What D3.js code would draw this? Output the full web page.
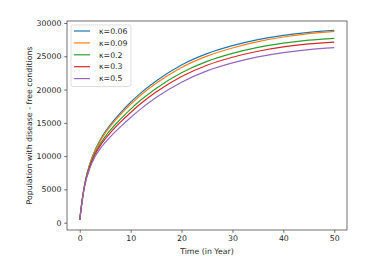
<!DOCTYPE html>
<html><head><meta charset="utf-8">
<script src="https://cdn.jsdelivr.net/npm/d3@7"></script>
<style>
body{margin:0;background:#fff}
svg{display:block}
text{font-family:"DejaVu Sans",sans-serif;fill:#262626}
</style>
</head><body>
<script>
// ---- data ----
const years = [0, 0.5, 1, 2, 3, 4, 5, 6, 8, 10, 12, 15, 20, 25, 30, 35, 40, 45, 50];
const seriesLabels = ["κ=0.06", "κ=0.09", "κ=0.2", "κ=0.3", "κ=0.5"];
const kappa006 = [400, 3500, 5900, 8900, 10900, 12400, 13650, 14700, 16500, 18100, 19500, 21300, 23700, 25400, 26600, 27500, 28150, 28600, 28900];
const kappa009 = [400, 3480, 5850, 8800, 10770, 12230, 13450, 14470, 16230, 17800, 19180, 20950, 23320, 25020, 26250, 27200, 27900, 28400, 28750];
const kappa02  = [400, 3455, 5765, 8585, 10450, 11815, 12930, 13890, 15555, 17065, 18420, 20175, 22530, 24230, 25430, 26330, 26980, 27430, 27700];
const kappa03  = [400, 3430, 5700, 8430, 10230, 11530, 12580, 13500, 15100, 16560, 17900, 19630, 21960, 23660, 24860, 25760, 26410, 26850, 27140];
const kappa05  = [400, 3400, 5600, 8200, 9900, 11100, 12050, 12900, 14400, 15800, 17100, 18800, 21100, 22800, 24000, 24900, 25550, 26000, 26300];
const xTicks = [0, 10, 20, 30, 40, 50];
const yTicks = [0, 5000, 10000, 15000, 20000, 25000, 30000];
const colors = ["#1f77b4", "#ff7f0e", "#2ca02c", "#d62728", "#9467bd"];
const xLabel = "Time (in Year)";
const yLabel = "Population with disease - free conditions";

const allSeries = [kappa006, kappa009, kappa02, kappa03, kappa05];

// ---- layout ----
const W = 374, H = 265;
const L = 67, R = 347, T = 21, B = 230;
const fs = 7.8;

const svg = d3.select("body").append("svg").attr("width", W).attr("height", H);

const x = d3.scaleLinear().domain([-2.5, 52.5]).range([L, R]);
const y = d3.scaleLinear().domain([-1100, 30300]).range([B, T]);

// lines
const line = d3.line().x((d, i) => x(years[i])).y(d => y(d)).curve(d3.curveMonotoneX);
const g = svg.append("g");
allSeries.forEach((s, i) => {
  g.append("path").datum(s).attr("d", line)
    .attr("fill", "none").attr("stroke", colors[i]).attr("stroke-width", 1.2);
});

// axes
const xAxis = d3.axisBottom(x).tickValues(xTicks).tickSize(2.8).tickPadding(2.8).tickFormat(d3.format("d"));
const yAxis = d3.axisLeft(y).tickValues(yTicks).tickSize(2.8).tickPadding(2.8).tickFormat(d3.format("d"));
const gx = svg.append("g").attr("transform", `translate(0,${B})`).call(xAxis);
const gy = svg.append("g").attr("transform", `translate(${L},0)`).call(yAxis);
[gx, gy].forEach(a => {
  a.select(".domain").remove();
  a.selectAll("line").attr("stroke", "#333").attr("stroke-width", 0.7);
  a.selectAll("text").attr("font-size", fs).attr("font-family", "DejaVu Sans").attr("fill", "#262626");
});

// frame
svg.append("rect").attr("x", L).attr("y", T).attr("width", R - L).attr("height", B - T)
  .attr("fill", "none").attr("stroke", "#333").attr("stroke-width", 0.7);

// axis labels
svg.append("text").attr("x", (L + R) / 2).attr("y", 253.5).attr("text-anchor", "middle")
  .attr("font-size", fs).text(xLabel);
svg.append("text").attr("transform", `translate(31.5,${(T + B) / 2}) rotate(-90)`)
  .attr("text-anchor", "middle").attr("font-size", fs).text(yLabel);

// legend
const lg = svg.append("g");
lg.append("rect").attr("x", 71).attr("y", 25).attr("width", 60).attr("height", 61.5)
  .attr("rx", 2).attr("fill", "rgba(255,255,255,0.8)").attr("stroke", "#d0d0d0").attr("stroke-width", 0.7);
seriesLabels.forEach((lab, i) => {
  const yy = 31 + i * 11.9;
  lg.append("line").attr("x1", 74).attr("x2", 90).attr("y1", yy).attr("y2", yy)
    .attr("stroke", colors[i]).attr("stroke-width", 1.2);
  lg.append("text").attr("x", 99).attr("y", yy).attr("dy", "0.35em")
    .attr("font-size", fs).text(lab);
});
</script>
</body></html>
